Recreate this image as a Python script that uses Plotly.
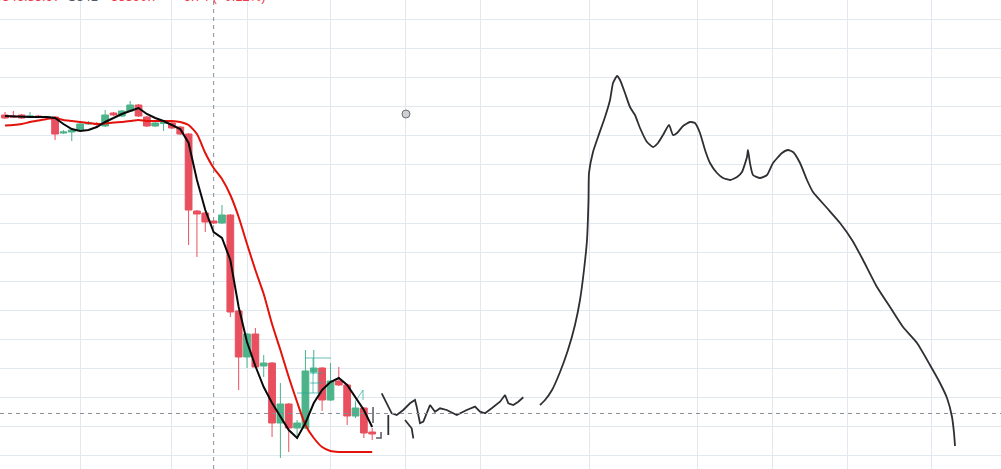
import plotly.graph_objects as go

# ---------------- data (bar index, price) ----------------
bar_index = list(range(45))
open_ = [91.25, 91.0, 91.25, 90.75, 91.0, 90.63, 90.75, 86.75, 87.0, 87.5,
         89.0, 89.13, 88.5, 91.75, 91.0, 92.25, 93.75, 90.75, 88.5, 89.13,
         89.25, 88.25, 86.5, 67.25, 66.75, 64.75, 64.25, 66.25, 42.25, 30.75,
         36.5, 28.5, 29.25, 14.25, 19.0, 13.0, 13.0, 27.0, 28.0, 20.0,
         24.75, 23.75, 16.0, 18.0, 12.0]
high = [92.0, 92.25, 91.5, 92.0, 91.25, 91.0, 91.0, 87.5, 87.75, 89.5,
        89.75, 89.5, 92.5, 92.0, 92.5, 94.75, 94.0, 91.0, 89.75, 90.0,
        89.5, 88.5, 86.75, 67.5, 67.0, 65.0, 68.75, 66.5, 42.5, 36.75,
        38.0, 31.25, 29.5, 24.25, 19.25, 15.0, 32.5, 32.5, 28.25, 29.25,
        28.25, 24.0, 19.5, 18.25, 13.0]
low = [90.25, 90.5, 90.25, 90.5, 90.5, 90.5, 85.0, 86.5, 84.75, 87.25,
       88.75, 88.5, 88.25, 91.0, 90.75, 92.0, 90.75, 88.25, 88.25, 87.25,
       87.75, 86.25, 58.75, 55.75, 62.0, 64.0, 64.0, 40.75, 22.5, 28.0,
       28.0, 25.75, 10.75, 5.5, 7.0, 10.25, 12.75, 26.5, 17.25, 19.75,
       23.5, 13.75, 15.5, 10.5, 10.0]
close = [90.5, 90.75, 90.5, 91.0, 90.75, 90.88, 86.5, 87.0, 87.5, 89.0,
         89.25, 88.88, 91.25, 91.25, 92.25, 93.75, 91.0, 88.5, 89.25, 89.38,
         88.0, 86.5, 67.5, 66.5, 64.5, 64.25, 66.25, 42.0, 30.75, 36.5,
         28.25, 29.25, 14.25, 19.0, 13.0, 14.25, 27.25, 28.0, 20.0, 24.75,
         23.75, 16.0, 18.0, 11.75, 11.5]

ma_fast = [91.0, 90.88, 90.75, 90.75, 90.75, 90.75, 90.5, 89.0, 87.75, 87.25,
           87.5, 88.25, 89.5, 90.5, 91.5, 92.25, 93.0, 91.5, 90.5, 89.75,
           88.75, 87.75, 84.25, 75.0, 67.5, 62.0, 60.5, 55.0, 43.25, 34.5,
           28.5, 23.25, 19.25, 15.75, 12.5, 10.5, 14.25, 19.25, 22.5, 24.5,
           25.5, 23.75, 20.75, 17.5, 13.25]
ma_slow = [88.63, 88.75, 89.0, 89.5, 89.88, 90.25, 90.5, 90.0, 89.75, 89.5,
           89.25, 89.0, 89.13, 89.38, 89.5, 89.75, 90.0, 89.75, 89.75, 89.75,
           89.75, 89.5, 88.75, 86.5, 81.75, 78.0, 75.25, 71.25, 65.75, 59.0,
           52.5, 46.5, 39.0, 32.5, 25.75, 19.5, 13.75, 10.5, 8.25, 7.25,
           7.0, 7.0, 7.0, 7.0, 7.0]

# hand-drawn brush strokes (bar index, price)
squiggle_x = [45.14, 46.34, 46.94, 47.73, 48.53, 49.13, 49.33, 49.73, 50.13, 50.93,
              51.53, 52.13, 52.93, 54.13, 55.33, 56.32, 56.92, 57.52, 58.32, 59.32,
              59.92, 60.31, 60.91, 61.51, 62.11]
squiggle_y = [21.68, 16.68, 16.25, 17.5, 19.18, 20.0, 18.33, 14.18, 14.58, 18.75,
              17.08, 17.93, 17.5, 16.25, 17.5, 18.33, 17.08, 16.68, 17.93, 19.58,
              21.25, 19.18, 18.75, 19.58, 20.68]
stroke2_x = [47.93, 48.73, 48.93]
stroke2_y = [15.0, 12.93, 10.43]
stroke3_x = [45.93, 45.93]
stroke3_y = [16.25, 11.25]
stroke4_x = [44.10, 44.10]
stroke4_y = [18.25, 14.25]
stroke5_x = [45.06, 45.06, 44.46]
stroke5_y = [12.0, 10.5, 10.5]

curve_x = [64.11, 64.71, 65.55, 66.51, 67.46, 68.30, 68.90, 69.38, 69.74, 69.92,
           69.98, 70.46, 71.06, 71.90, 72.50, 72.86, 73.34, 73.70, 74.29, 74.89,
           75.49, 76.09, 76.93, 77.65, 78.25, 78.85, 79.57, 80.05, 80.53, 81.25,
           82.08, 82.68, 83.28, 83.88, 84.48, 85.32, 86.04, 86.88, 87.72, 88.31,
           88.91, 89.03, 89.27, 89.63, 90.47, 91.31, 92.03, 93.11, 93.83, 94.43,
           95.27, 96.10, 96.82, 98.50, 100.06, 101.50, 102.82, 104.49, 106.05, 107.61,
           109.29, 110.84, 112.04, 112.88, 113.48, 113.72, 113.84]
curve_y = [18.75, 20.0, 22.5, 27.0, 32.5, 38.75, 45.0, 52.5, 60.0, 70.0,
           76.75, 82.0, 85.75, 90.75, 95.0, 99.25, 101.0, 100.0, 96.75, 93.25,
           91.25, 88.0, 84.5, 83.25, 84.25, 86.25, 88.75, 86.25, 86.75, 88.5,
           89.5, 89.25, 86.75, 82.5, 79.25, 76.75, 75.5, 75.0, 75.75, 77.0,
           80.75, 82.5, 79.25, 76.25, 75.5, 76.25, 79.25, 81.75, 82.5, 82.0,
           79.25, 75.0, 72.0, 68.0, 64.25, 60.0, 55.0, 48.25, 43.25, 38.25,
           34.25, 28.75, 24.25, 20.5, 15.75, 11.75, 8.5]

# teal drawing segments (bar index, price)
teal_segments = [
    ([35.95, 39.07], [30.5, 30.5]),
    ([36.55, 38.11], [26.75, 26.75]),
    ([36.55, 38.11], [24.25, 24.25]),
    ([34.99, 37.99], [21.75, 21.75]),
    ([36.91, 36.91], [30.5, 21.75]),
    ([37.51, 37.51], [26.75, 21.75]),
    ([41.94, 42.90, 42.90], [19.5, 22.5, 20.0]),
]

anchor_x = [48.05]
anchor_y = [91.5]

date_grid = [9, 20, 29, 39, 48, 57, 70, 83, 92, 101, 111]
crosshair_x = 25
crosshair_y = 16.63

legend_parts = [("0.00346.85.97", "#f23645"), ("C341", "#555a64"),
                ("35590.7", "#f23645"), ("\u22126.74 (\u22120.12%)", "#f23645")]
legend_pos = [62, 100, 160, 268]

X_RANGE = [-0.6, 119.35]
Y_RANGE = [2.75, 120.0]

# ---------------- figure ----------------
UP = "#4cb38a"
DOWN = "#e8505f"

fig = go.Figure()

fig.add_trace(go.Candlestick(
    x=bar_index, open=open_, high=high, low=low, close=close,
    increasing=dict(line=dict(color=UP, width=1), fillcolor=UP),
    decreasing=dict(line=dict(color=DOWN, width=1), fillcolor=DOWN),
    whiskerwidth=0, showlegend=False, hoverinfo="skip",
))

for sx, sy in teal_segments:
    fig.add_trace(go.Scatter(x=sx, y=sy, mode="lines",
                             line=dict(color="rgba(38,166,154,0.7)", width=1),
                             showlegend=False, hoverinfo="skip"))

fig.add_trace(go.Scatter(x=bar_index, y=ma_slow, mode="lines",
                         line=dict(color="#e3120b", width=2, shape="spline", smoothing=0.6),
                         showlegend=False, hoverinfo="skip"))
fig.add_trace(go.Scatter(x=bar_index, y=ma_fast, mode="lines",
                         line=dict(color="#0a0a0a", width=2),
                         showlegend=False, hoverinfo="skip"))

pen_smooth = dict(color="#2f2f33", width=1.8, shape="spline", smoothing=0.5)
pen_sharp = dict(color="#2f2f33", width=1.8)
for sx, sy, pen in [(squiggle_x, squiggle_y, pen_sharp), (stroke2_x, stroke2_y, pen_sharp),
                    (stroke3_x, stroke3_y, pen_sharp), (curve_x, curve_y, pen_smooth)]:
    fig.add_trace(go.Scatter(x=sx, y=sy, mode="lines", line=pen,
                             showlegend=False, hoverinfo="skip"))
for sx, sy in [(stroke4_x, stroke4_y), (stroke5_x, stroke5_y)]:
    fig.add_trace(go.Scatter(x=sx, y=sy, mode="lines",
                             line=dict(color="#55585f", width=1.5),
                             showlegend=False, hoverinfo="skip"))

fig.add_trace(go.Scatter(x=anchor_x, y=anchor_y, mode="markers",
                         marker=dict(size=8, color="#cfd0d4",
                                     line=dict(color="#6b6e75", width=1)),
                         showlegend=False, hoverinfo="skip"))

# crosshair
fig.add_shape(type="line", xref="x", yref="paper", x0=crosshair_x, x1=crosshair_x, y0=0, y1=1,
              line=dict(color="#8a8d96", width=1, dash="4px,4px"), layer="above")
fig.add_shape(type="line", xref="paper", yref="y", x0=0, x1=1, y0=crosshair_y, y1=crosshair_y,
              line=dict(color="#8a8d96", width=1, dash="4px,4px"), layer="above")

# clipped legend text at the very top
for (txt, col), xr in zip(legend_parts, legend_pos):
    fig.add_annotation(x=xr / 1001, y=1, xref="paper", yref="paper",
                       xanchor="right", yanchor="bottom", yshift=-6,
                       text=txt, showarrow=False,
                       font=dict(family="Liberation Sans, Arial", size=13, color=col))

fig.update_layout(
    width=1001, height=469,
    margin=dict(l=0, r=0, t=0, b=0),
    paper_bgcolor="white", plot_bgcolor="white",
    showlegend=False, hovermode=False,
    boxgap=0.12, boxgroupgap=0.08,
    xaxis=dict(range=X_RANGE, showticklabels=False, ticks="", zeroline=False,
               showline=False, rangeslider=dict(visible=False),
               tickmode="array", tickvals=date_grid,
               showgrid=True, gridcolor="#e2e8ef", gridwidth=1),
    yaxis=dict(range=Y_RANGE, showticklabels=False, ticks="", zeroline=False,
               showline=False, tick0=115.1, dtick=7.2675,
               showgrid=True, gridcolor="#e2e8ef", gridwidth=1),
)

fig.write_html("out.html", config={"displayModeBar": False},
               post_script="document.body.style.margin='0px';document.body.style.overflow='hidden';")
